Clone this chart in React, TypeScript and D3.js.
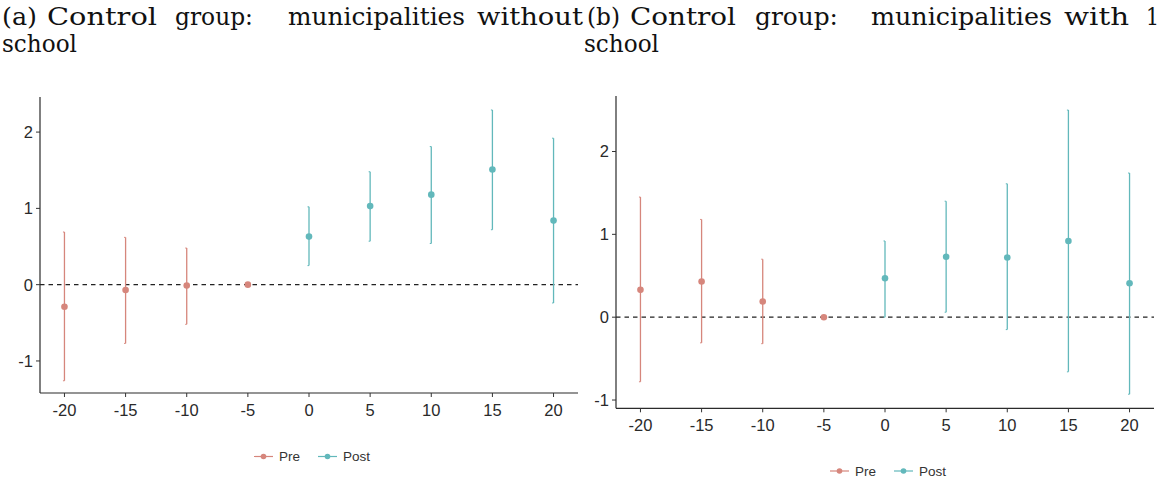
import React from "react";
import * as d3 from "d3";

// ---- data ----
const periods = [-20, -15, -10, -5, 0, 5, 10, 15, 20];
const estA = [-0.29, -0.07, -0.01, 0, 0.63, 1.03, 1.18, 1.51, 0.84];
const loA = [-1.26, -0.77, -0.52, 0, 0.25, 0.57, 0.54, 0.72, -0.24];
const hiA = [0.69, 0.62, 0.48, 0, 1.02, 1.48, 1.81, 2.29, 1.92];
const estB = [0.33, 0.43, 0.19, 0, 0.47, 0.73, 0.72, 0.92, 0.41];
const loB = [-0.78, -0.31, -0.32, 0, 0.0, 0.06, -0.15, -0.66, -0.93];
const hiB = [1.45, 1.18, 0.7, 0, 0.92, 1.4, 1.61, 2.5, 1.74];
const xTicks = [-20, -15, -10, -5, 0, 5, 10, 15, 20];
const yTicksA = [-1, 0, 1, 2];
const yTicksB = [-1, 0, 1, 2];
const legendLabels = ["Pre", "Post"];
const titleA1 = ["(a)", "Control", "group:", "municipalities", "without"];
const titleB1 = ["(b)", "Control", "group:", "municipalities", "with", "1"];
const title2 = "school";

const COLORS: Record<string, string> = { Pre: "#d6867c", Post: "#62b8bb" };
const SANS = "'Liberation Sans', Arial, sans-serif";

type PanelProps = {
  est: number[];
  lo: number[];
  hi: number[];
  yTicks: number[];
  yDomain: [number, number];
  left: number;
  right: number;
  top: number;
  bottom: number;
  legendX: number;
  legendY: number;
};

function Panel(p: PanelProps) {
  const x = d3.scaleLinear().domain([-22, 22]).range([p.left, p.right]);
  const y = d3.scaleLinear().domain(p.yDomain).range([p.bottom, p.top]);
  const axisColor = "#2b2b2b";
  const tickColor = "#333";
  const phase = (t: number) => (t < 0 ? "Pre" : "Post");
  return (
    <g>
      <line x1={p.left} x2={p.right} y1={y(0)} y2={y(0)} stroke="#222" strokeWidth={1.2} strokeDasharray="4.5,4" />
      {periods.map((t, i) =>
        p.hi[i] !== p.lo[i] ? (
          <g key={"eb" + t}>
            <line x1={x(t)} x2={x(t)} y1={y(p.lo[i])} y2={y(p.hi[i])} stroke={COLORS[phase(t)]} strokeWidth={1.3} />
            <line x1={x(t) - 1.5} x2={x(t)} y1={y(p.lo[i])} y2={y(p.lo[i])} stroke={COLORS[phase(t)]} strokeWidth={1} />
            <line x1={x(t) - 1.5} x2={x(t)} y1={y(p.hi[i])} y2={y(p.hi[i])} stroke={COLORS[phase(t)]} strokeWidth={1} />
          </g>
        ) : null
      )}
      {periods.map((t, i) => (
        <circle key={"pt" + t} cx={x(t)} cy={y(p.est[i])} r={3.3} fill={COLORS[phase(t)]} />
      ))}
      <line x1={p.left} x2={p.left} y1={p.top} y2={p.bottom} stroke={axisColor} strokeWidth={1.2} />
      <line x1={p.left} x2={p.right} y1={p.bottom} y2={p.bottom} stroke={axisColor} strokeWidth={1.2} />
      {p.yTicks.map((v) => (
        <g key={"yt" + v}>
          <line x1={p.left - 4} x2={p.left} y1={y(v)} y2={y(v)} stroke={tickColor} strokeWidth={1} />
          <text x={p.left - 7} y={y(v)} dy="0.36em" textAnchor="end" fontSize={16.5} fill="#2a2a2a" fontFamily={SANS}>
            {v}
          </text>
        </g>
      ))}
      {xTicks.map((v) => (
        <g key={"xt" + v}>
          <line x1={x(v)} x2={x(v)} y1={p.bottom} y2={p.bottom + 4} stroke={tickColor} strokeWidth={1} />
          <text x={x(v)} y={p.bottom + 23} textAnchor="middle" fontSize={16.5} fill="#2a2a2a" fontFamily={SANS}>
            {v}
          </text>
        </g>
      ))}
      {legendLabels.map((lab, i) => {
        const lx = p.legendX + i * 64;
        return (
          <g key={"lg" + lab}>
            <line x1={lx} x2={lx + 19} y1={p.legendY} y2={p.legendY} stroke={COLORS[lab]} strokeWidth={1.2} />
            <circle cx={lx + 9.5} cy={p.legendY} r={2.8} fill={COLORS[lab]} />
            <text x={lx + 25} y={p.legendY} dy="0.35em" fontSize={13.5} fill="#333" fontFamily={SANS}>
              {lab}
            </text>
          </g>
        );
      })}
    </g>
  );
}

function TitleLine({ words, xs, widths, y }: { words: string[]; xs: number[]; widths: number[]; y: number }) {
  return (
    <text y={y} fontSize={25} fill="#111" fontFamily="'DejaVu Serif', serif">
      {words.map((w, i) => (
        <tspan key={i} x={xs[i]} textLength={widths[i]} lengthAdjust="spacingAndGlyphs">
          {w}
        </tspan>
      ))}
    </text>
  );
}

export default function App() {
  return (
    <svg width={1169} height={479} style={{ position: "absolute", left: 0, top: 0, background: "#fff" }}>
      <rect x={0} y={0} width={1169} height={479} fill="#fff" />
      <TitleLine words={titleA1} xs={[2, 47, 175, 288, 477]} widths={[35, 110, 78, 177, 106]} y={25} />
      <TitleLine words={[title2]} xs={[2]} widths={[75]} y={52} />
      <TitleLine words={titleB1} xs={[587, 630, 755, 871, 1064, 1146]} widths={[33, 106, 83, 181, 65, 13]} y={25} />
      <TitleLine words={[title2]} xs={[584]} widths={[75]} y={52} />
      <Panel est={estA} lo={loA} hi={hiA} yTicks={yTicksA} yDomain={[-1.42, 2.46]} left={40} right={578} top={97} bottom={393} legendX={254} legendY={456.5} />
      <Panel est={estB} lo={loB} hi={hiB} yTicks={yTicksB} yDomain={[-1.1, 2.67]} left={616} right={1154} top={96} bottom={408.3} legendX={830} legendY={471} />
    </svg>
  );
}
